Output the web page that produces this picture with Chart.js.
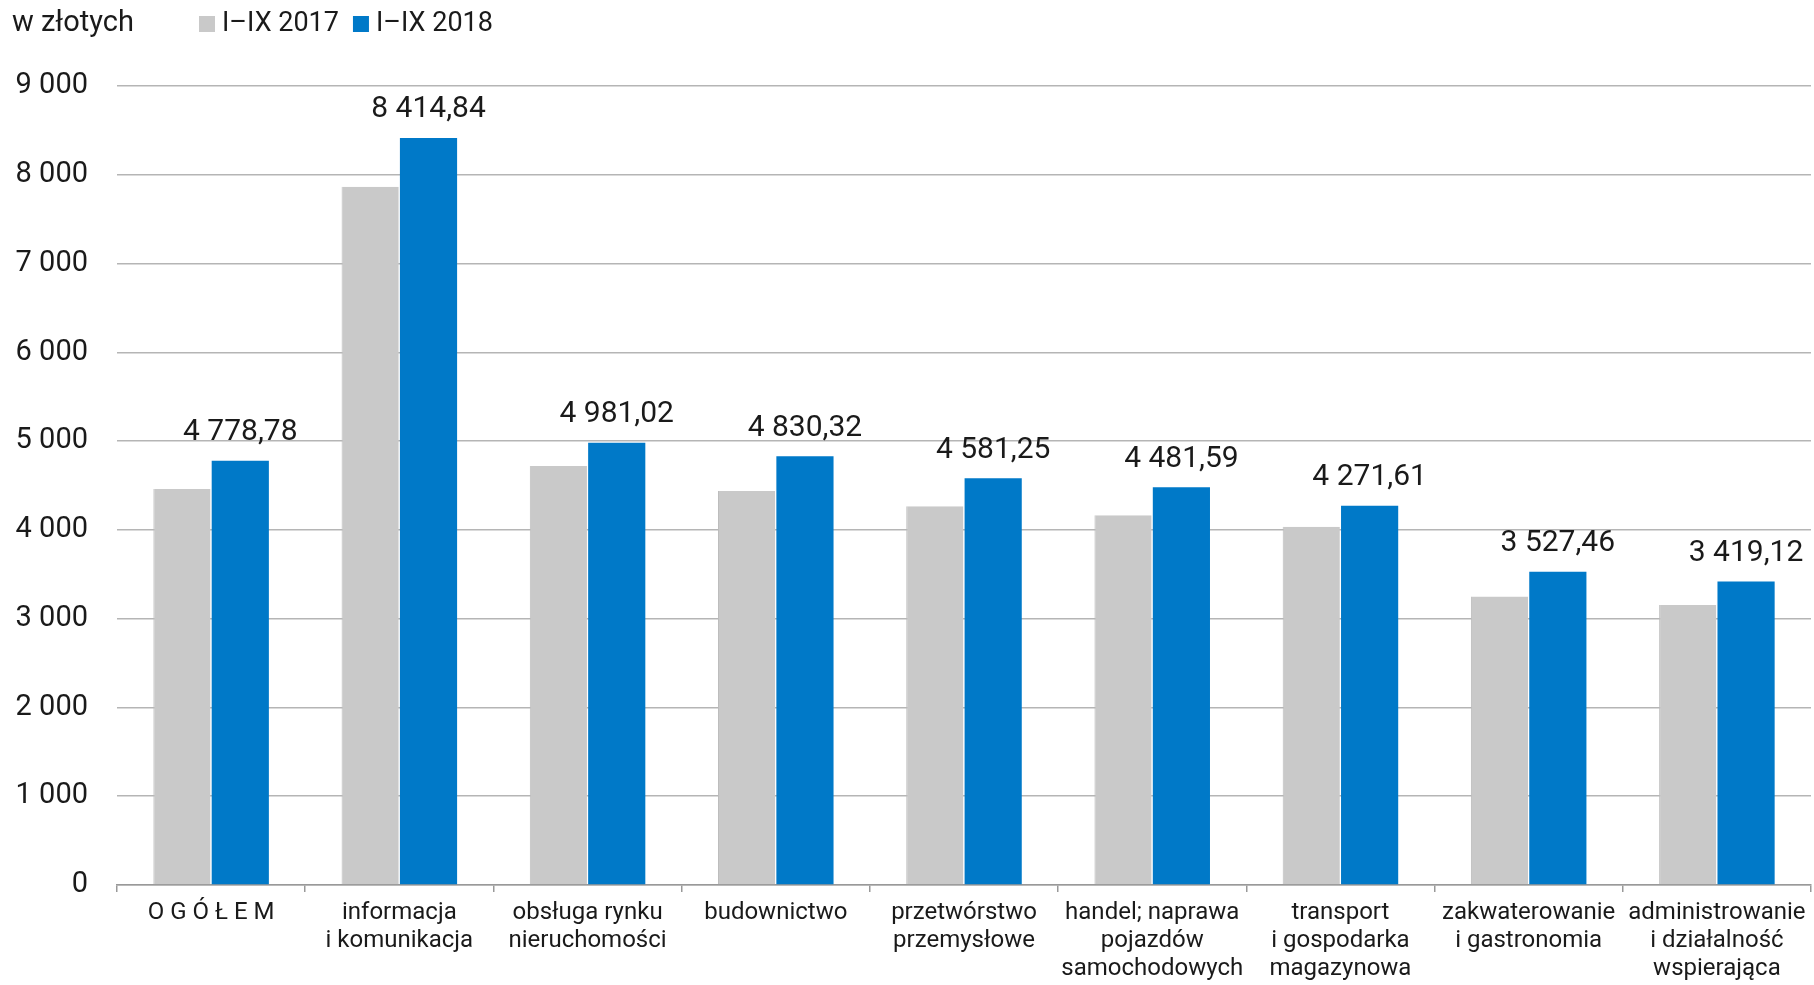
<!DOCTYPE html>
<html lang="pl">
  <head>
    <meta charset="utf-8" />
    <title>Przeciętne wynagrodzenie I–IX 2017 i 2018</title>
    <style>
      html, body { margin: 0; padding: 0; background: #fff; }
      .chartBox { width: 1814px; height: 985px; }
    </style>
  </head>
  <body>
    <div class="chartBox">
      <canvas id="myChart"></canvas>
    </div>
    <script src="https://cdn.jsdelivr.net/npm/chart.js"></script>
    <script>
      // data
      const categories = [
        'O G Ó Ł E M',
        ['informacja', 'i komunikacja'],
        ['obsługa rynku', 'nieruchomości'],
        'budownictwo',
        ['przetwórstwo', 'przemysłowe'],
        ['handel; naprawa', 'pojazdów', 'samochodowych'],
        ['transport', 'i gospodarka', 'magazynowa'],
        ['zakwaterowanie', 'i gastronomia'],
        ['administrowanie', 'i działalność', 'wspierająca']
      ];
      const seriesNames = ['I–IX 2017', 'I–IX 2018'];
      const values2017 = [4460, 7866, 4720, 4438, 4266, 4165, 4036, 3249, 3154];
      const values2018 = [4778.78, 8414.84, 4981.02, 4830.32, 4581.25, 4481.59, 4271.61, 3527.46, 3419.12];
      const yTicks = [0, 1000, 2000, 3000, 4000, 5000, 6000, 7000, 8000, 9000];
      const unitLabel = 'w złotych';

      const FONT = 'Roboto, "DejaVu Sans", sans-serif';
      const TEXT = '#1a1a1a';

      // 8414.84 -> "8 414,84"
      function plNumber(v, decimals) {
        const parts = v.toFixed(decimals).split('.');
        const intPart = parts[0].replace(/\B(?=(\d{3})+(?!\d))/g, ' ');
        return parts.length > 1 ? intPart + ',' + parts[1] : intPart;
      }

      // header: unit + legend
      const headerLegend = {
        id: 'headerLegend',
        afterDraw(chart) {
          const ctx = chart.ctx;
          ctx.save();
          ctx.textBaseline = 'middle';
          ctx.textAlign = 'left';
          ctx.fillStyle = TEXT;
          ctx.font = '29px ' + FONT;
          ctx.fillText(unitLabel, 12, 24);

          ctx.font = '27px ' + FONT;
          let x = 199;
          chart.data.datasets.forEach((ds) => {
            ctx.fillStyle = ds.backgroundColor;
            ctx.fillRect(x, 16, 16, 16);
            x += 23;
            ctx.fillStyle = TEXT;
            ctx.fillText(ds.label, x, 24);
            x += ctx.measureText(ds.label).width + 14;
          });
          ctx.restore();
        }
      };

      // value labels above the 2018 bars
      const valueLabels = {
        id: 'valueLabels',
        afterDatasetsDraw(chart) {
          const ctx = chart.ctx;
          const meta = chart.getDatasetMeta(1);
          ctx.save();
          ctx.font = '30px ' + FONT;
          ctx.textAlign = 'center';
          ctx.textBaseline = 'middle';
          ctx.fillStyle = TEXT;
          meta.data.forEach((bar, i) => {
            ctx.fillText(plNumber(values2018[i], 2), bar.x, bar.y - 28);
          });
          ctx.restore();
        }
      };

      const data = {
        labels: categories,
        datasets: [
          {
            label: seriesNames[0],
            data: values2017,
            backgroundColor: '#c9c9c9',
            borderColor: '#bdbdbd',
            borderWidth: { left: 1, top: 0, right: 0, bottom: 0 }
          },
          {
            label: seriesNames[1],
            data: values2018,
            backgroundColor: '#0079c8'
          }
        ]
      };

      const config = {
        type: 'bar',
        data,
        options: {
          responsive: true,
          maintainAspectRatio: false,
          animation: false,
          layout: { padding: { top: 86, right: 3, left: 0, bottom: 0 } },
          datasets: {
            bar: { categoryPercentage: 0.62, barPercentage: 0.98 }
          },
          plugins: {
            legend: { display: false },
            tooltip: { enabled: false }
          },
          scales: {
            x: {
              grid: {
                offset: true,
                drawOnChartArea: false,
                drawTicks: true,
                tickLength: 7,
                color: '#999999',
                lineWidth: 1.5
              },
              border: { color: '#999999', width: 1.5 },
              ticks: {
                autoSkip: false,
                maxRotation: 0,
                padding: 7,
                color: TEXT,
                font: { family: FONT, size: 24, lineHeight: 1.17 }
              },
              afterFit(scale) { scale.height = 100; }
            },
            y: {
              min: 0,
              max: 9000,
              afterBuildTicks(scale) {
                scale.ticks = yTicks.map((v) => ({ value: v }));
              },
              grid: { color: '#b5b5b5', lineWidth: 1.5, drawTicks: false },
              border: { display: false },
              ticks: {
                padding: 29,
                color: TEXT,
                font: { family: FONT, size: 29 },
                callback: (v) => plNumber(v, 0)
              },
              afterFit(scale) { scale.width = 117; }
            }
          }
        },
        plugins: [headerLegend, valueLabels]
      };

      const myChart = new Chart(document.getElementById('myChart'), config);
    </script>
  </body>
</html>
